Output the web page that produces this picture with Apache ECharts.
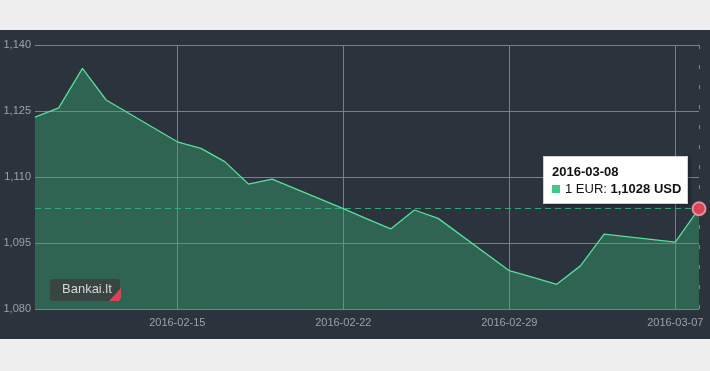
<!DOCTYPE html>
<html>
<head>
<meta charset="utf-8">
<script src="https://cdn.jsdelivr.net/npm/echarts@6/dist/echarts.min.js"></script>
<style>
  html, body { margin:0; padding:0; background:#eeeeee; width:710px; height:371px; overflow:hidden; }
  #panel { position:absolute; left:0; top:30px; width:710px; height:309px; background:#2b333d; }
  #chart { position:absolute; left:0; top:0; width:710px; height:371px; }
</style>
</head>
<body>
<div id="panel"></div>
<div id="chart"></div>
<script>
const dates = [
  '2016-02-09','2016-02-10','2016-02-11','2016-02-12','2016-02-13','2016-02-14','2016-02-15',
  '2016-02-16','2016-02-17','2016-02-18','2016-02-19','2016-02-20','2016-02-21','2016-02-22',
  '2016-02-23','2016-02-24','2016-02-25','2016-02-26','2016-02-27','2016-02-28','2016-02-29',
  '2016-03-01','2016-03-02','2016-03-03','2016-03-04','2016-03-05','2016-03-06','2016-03-07',
  '2016-03-08'
];
const eurUsd = [
  1.1236, 1.1257, 1.1347, 1.1275, null, null, 1.1180,
  1.1165, 1.1135, 1.1084, 1.1095, null, null, 1.1028,
  1.1005, 1.0982, 1.1025, 1.1006, null, null, 1.0887,
  1.0872, 1.0856, 1.0898, 1.0970, null, null, 1.0952,
  1.1028
];
const xTickLabels = ['2016-02-15','2016-02-22','2016-02-29','2016-03-07'];
const yMin = 1.080, yMax = 1.140, yStep = 0.015;
const lastIndex = dates.length - 1;
const lastValue = eurUsd[lastIndex];

const fontFam = 'Arial, "Liberation Sans", sans-serif';
const chart = echarts.init(document.getElementById('chart'), null, {renderer:'canvas'});
const fmt = v => v.toFixed(3).replace('.', ',');

chart.setOption({
  animation: false,
  backgroundColor: 'transparent',
  grid: { left: 35, right: 11, top: 45, bottom: 62 },
  xAxis: {
    type: 'category',
    data: dates,
    boundaryGap: false,
    axisLine: { show: false },
    axisTick: { show: false },
    axisLabel: {
      interval: (i, v) => xTickLabels.indexOf(v) >= 0,
      color: '#9ca1a8', fontSize: 11, fontFamily: fontFam, margin: 8
    },
    splitLine: {
      show: true,
      interval: (i, v) => xTickLabels.indexOf(v) >= 0,
      lineStyle: { color: '#7a8088', width: 1 }
    }
  },
  yAxis: {
    type: 'value',
    min: yMin, max: yMax, interval: yStep,
    axisLine: { show: false },
    axisTick: { show: false },
    axisLabel: { formatter: fmt, color: '#9ca1a8', fontSize: 11, fontFamily: fontFam, margin: 4 },
    splitLine: { lineStyle: { color: '#7a8088', width: 1 } }
  },
  tooltip: {
    trigger: 'axis',
    alwaysShowContent: true,
    triggerOn: 'none',
    position: () => [543, 156],
    backgroundColor: '#ffffff',
    borderColor: '#d0d0d0',
    borderWidth: 1,
    borderRadius: 0,
    padding: [6, 6, 6, 8],
    extraCssText: 'box-shadow: 2px 2px 3px rgba(0,0,0,0.35);',
    axisPointer: {
      type: 'line',
      lineStyle: { color: '#3fa37c', width: 1, type: [4, 16] }
    },
    formatter: params => {
      const p = params[0];
      return '<div style="font-family:Arial,\'Liberation Sans\',sans-serif;color:#111;line-height:17px;">' +
        '<div style="font-weight:bold;font-size:13px;">' + p.name + '</div>' +
        '<div style="font-size:13px;"><span style="display:inline-block;width:8px;height:8px;background:#3ecb86;margin-right:5px;"></span>1 EUR: <b>' +
        p.value.toFixed(4).replace('.', ',') + ' USD</b></div></div>';
    }
  },
  series: [{
    type: 'line',
    data: eurUsd,
    connectNulls: true,
    symbol: 'none',
    lineStyle: { color: '#50cb8f', width: 1.3 },
    areaStyle: { color: 'rgba(48,160,102,0.56)', origin: 'start' },
    markLine: {
      silent: true,
      precision: 4,
      symbol: ['none', 'none'],
      label: { show: false },
      lineStyle: { color: '#33a679', width: 1, type: [6, 4] },
      emphasis: { disabled: true },
      data: [{ yAxis: lastValue }]
    },
    markPoint: {
      silent: true,
      symbol: 'circle',
      symbolSize: 13,
      label: { show: false },
      itemStyle: { color: '#d84453', borderColor: 'rgba(240,160,170,0.85)', borderWidth: 2 },
      data: [{ coord: [dates[lastIndex], lastValue] }]
    }
  }],
  graphic: [
    {
      type: 'rect', left: 50, top: 279, z: 100,
      shape: { width: 70, height: 22, r: 3 },
      style: { fill: 'rgba(60,60,62,0.75)' }
    },
    {
      type: 'polygon', z: 101,
      shape: { points: [[121, 288], [121, 298], [119, 301], [109, 301]] },
      style: { fill: '#d84453' }
    },
    {
      type: 'text', left: 62, top: 283, z: 102,
      style: { text: 'Bankai.lt', fill: '#d6d6d6', font: '13px ' + fontFam }
    }
  ]
});
chart.dispatchAction({ type: 'showTip', seriesIndex: 0, dataIndex: lastIndex });
</script>
</body>
</html>
